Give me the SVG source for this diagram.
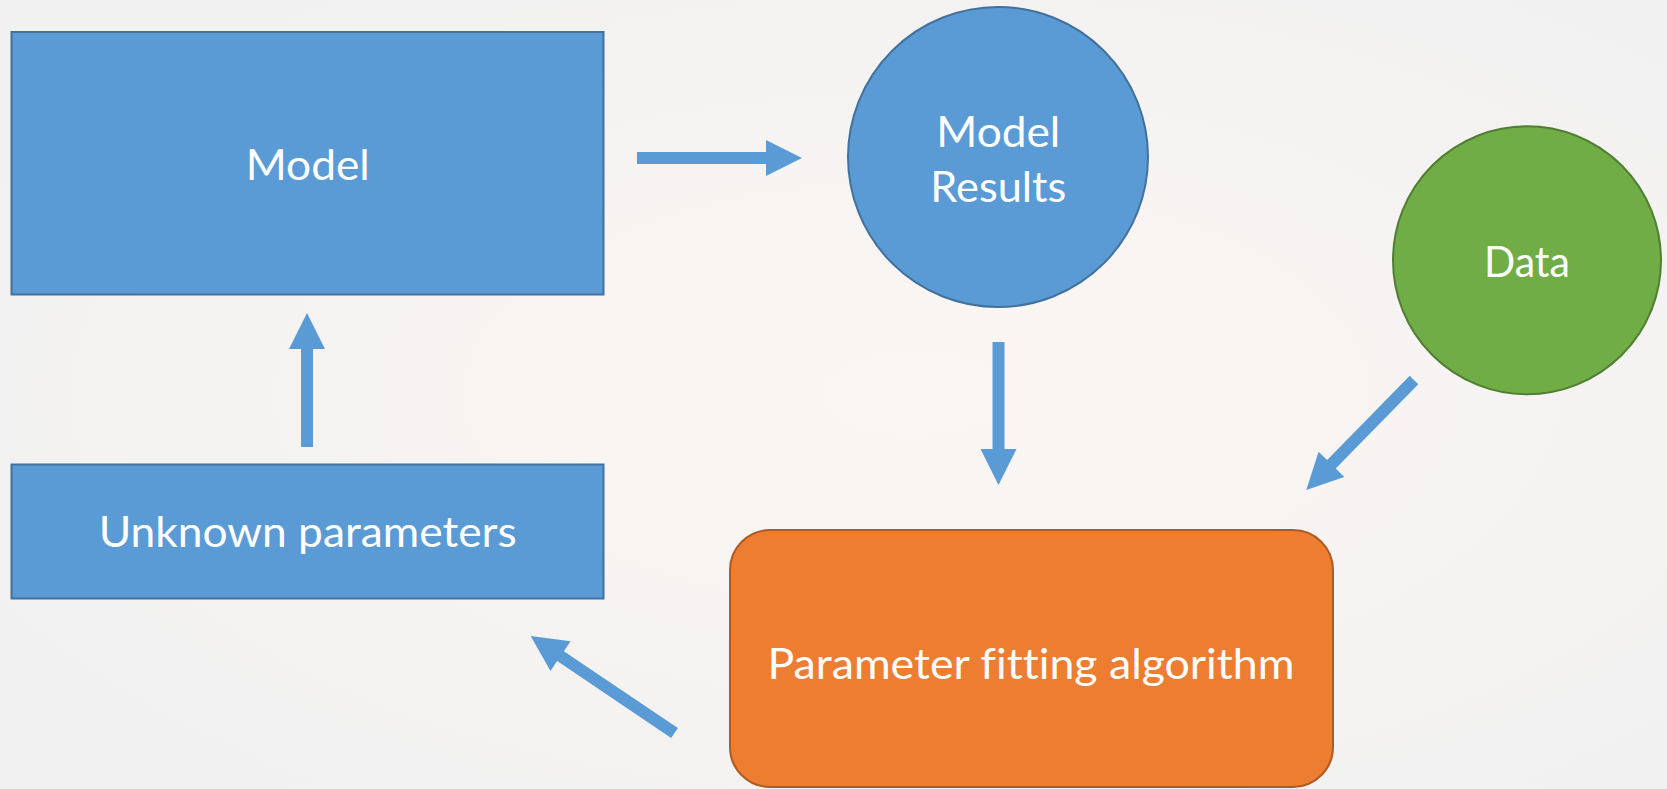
<svg xmlns="http://www.w3.org/2000/svg" width="1667" height="789" viewBox="0 0 1667 789">
<defs>
<radialGradient id="bg" cx="0.55" cy="0.5" r="0.65">
<stop offset="0" stop-color="#fbf6f3"/>
<stop offset="1" stop-color="#f1f1f1"/>
</radialGradient>
<style>
.blue{fill:#5b9bd5;stroke:#41719c;stroke-width:2}
.orange{fill:#ed7d31;stroke:#ae5a21;stroke-width:2}
.green{fill:#70ad47;stroke:#507e32;stroke-width:2}
.lbl{font-family:Lato,"Open Sans","Liberation Sans",sans-serif;font-size:42px;fill:#ffffff;text-anchor:middle;font-variant-ligatures:none;font-feature-settings:"liga" 0}
.arr{fill:#5b9bd5}
</style>
</defs>
<rect x="0" y="0" width="1667" height="789" fill="url(#bg)"/>
<g id="connectors">
<polygon class="arr" transform="translate(637,158)" points="0,-6 129,-6 129,-18 165,0 129,18 129,6 0,6"/>
<polygon class="arr" transform="translate(307,447) rotate(-90)" points="0,-6 98,-6 98,-18 134,0 98,18 98,6 0,6"/>
<polygon class="arr" transform="translate(998.5,342) rotate(90)" points="0,-6 107,-6 107,-18 143,0 107,18 107,6 0,6"/>
<polygon class="arr" transform="translate(1414,380) rotate(134.4)" points="0,-6 118,-6 118,-18 154,0 118,18 118,6 0,6"/>
<polygon class="arr" transform="translate(674.5,733) rotate(-146)" points="0,-6 137.5,-6 137.5,-18 173.5,0 137.5,18 137.5,6 0,6"/>
</g>
<g id="model">
<rect class="blue" x="11.5" y="32" width="592" height="262.5"/>
<text class="lbl" x="307.7" y="180" textLength="124" lengthAdjust="spacingAndGlyphs">Model</text>
</g>
<g id="unknown-parameters">
<rect class="blue" x="11.5" y="464.5" width="592" height="134"/>
<text class="lbl" x="307.7" y="546.7" textLength="418" lengthAdjust="spacingAndGlyphs">Unknown parameters</text>
</g>
<g id="model-results">
<circle class="blue" cx="998" cy="157" r="150"/>
<text class="lbl" x="998.3" y="146.7" textLength="124" lengthAdjust="spacingAndGlyphs">Model</text>
<text class="lbl" x="998.3" y="201.7" textLength="136" lengthAdjust="spacingAndGlyphs">Results</text>
</g>
<g id="data">
<circle class="green" cx="1527" cy="260.3" r="134"/>
<text class="lbl" x="1527" y="276.7" textLength="86" lengthAdjust="spacingAndGlyphs">Data</text>
</g>
<g id="parameter-fitting-algorithm">
<rect class="orange" x="730" y="530" width="603" height="257" rx="40" ry="40"/>
<text class="lbl" x="1031" y="679" textLength="527" lengthAdjust="spacingAndGlyphs">Parameter fitting algorithm</text>
</g>
</svg>
